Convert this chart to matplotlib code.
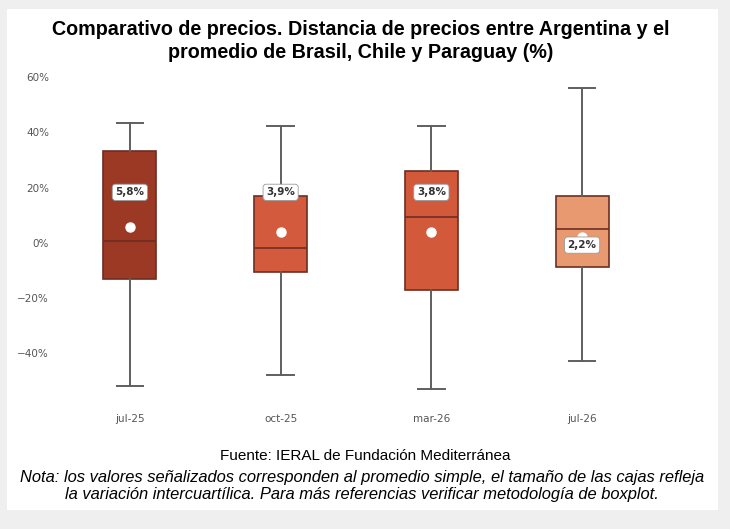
import matplotlib
matplotlib.use("Agg")
import matplotlib.pyplot as plt
from matplotlib.patches import Rectangle
from matplotlib.ticker import FuncFormatter

# stats (in %)
periods = ["jul-25", "oct-25", "mar-26", "jul-26"]
whis_low = [-51.8, -47.7, -52.8, -42.9]
q1 = [-12.9, -10.7, -16.9, -8.9]
medians = [0.7, -1.8, 9.2, 5.2]
q3 = [33.3, 17.0, 26.1, 17.0]
whis_high = [43.3, 42.3, 42.3, 56.2]
means = [5.8, 3.9, 3.8, 2.2]
label_y = [18.3, 18.3, 18.3, -0.8]
box_colors = ["#9c3925", "#d35a3d", "#d3593b", "#e9996f"]

fig = plt.figure(figsize=(7.3, 5.29), dpi=100)
fig.patch.set_facecolor("#efefef")
fig.patches.append(Rectangle((7 / 730, 1 - 510 / 529), 711 / 730, 501 / 529,
                             transform=fig.transFigure, facecolor="white",
                             edgecolor="none", zorder=-5))

ax = fig.add_axes([54.5 / 730, 1 - 404 / 529, 603 / 730, 331.6 / 529])
ax.set_facecolor("none")
ax.set_zorder(2)

stats = []
for i in range(len(periods)):
    stats.append(dict(label=periods[i], whislo=whis_low[i], q1=q1[i], med=medians[i],
                      q3=q3[i], whishi=whis_high[i], mean=means[i]))

bp = ax.bxp(stats, positions=range(len(periods)), widths=0.35, patch_artist=True,
            showmeans=True, showfliers=False,
            boxprops=dict(edgecolor="#6e2e22", linewidth=1.2),
            whiskerprops=dict(color="#5f5f5f", linewidth=1.4),
            capprops=dict(color="#5f5f5f", linewidth=1.4),
            medianprops=dict(color="#6e2e22", linewidth=1.2),
            meanprops=dict(marker="o", markerfacecolor="white", markeredgecolor="white",
                           markersize=6.5))
for patch, c in zip(bp["boxes"], box_colors):
    patch.set_facecolor(c)

for i, m in enumerate(means):
    ax.text(i, label_y[i], "{:.1f}%".format(m).replace(".", ","), ha="center", va="center",
            fontsize=7.5, fontweight="bold", color="#333333", zorder=5,
            bbox=dict(boxstyle="round,pad=0.3", fc="white", ec="#999999", lw=0.6))

ax.set_xlim(-0.5, len(periods) - 0.5)
ax.set_ylim(-58.3, 61.7)
ax.set_yticks([-40, -20, 0, 20, 40, 60])
ax.yaxis.set_major_formatter(FuncFormatter(lambda v, p: "{:.0f}%".format(v).replace("-", "\u2212")))
ax.tick_params(length=0, labelsize=7.5, labelcolor="#555555", pad=4)
ax.tick_params(axis="x", pad=7)
for s in ax.spines.values():
    s.set_visible(False)

fig.text(361 / 730, 1 - 41 / 529,
         "Comparativo de precios. Distancia de precios entre Argentina y el\npromedio de Brasil, Chile y Paraguay (%)",
         ha="center", va="center", fontsize=14.2, fontweight="bold",
         family="Liberation Sans", linespacing=1.25)

fig.text(365 / 730, 1 - 456 / 529, "Fuente: IERAL de Fundación Mediterránea",
         ha="center", va="center", fontsize=11, family="Liberation Sans")
fig.text(362 / 730, 1 - 486 / 529,
         "Nota: los valores señalizados corresponden al promedio simple, el tamaño de las cajas refleja\n"
         "la variación intercuartílica. Para más referencias verificar metodología de boxplot.",
         ha="center", va="center", fontsize=11.9, style="italic", family="Liberation Sans",
         linespacing=1.15)

fig.savefig("out.png", dpi=100, facecolor=fig.get_facecolor())
